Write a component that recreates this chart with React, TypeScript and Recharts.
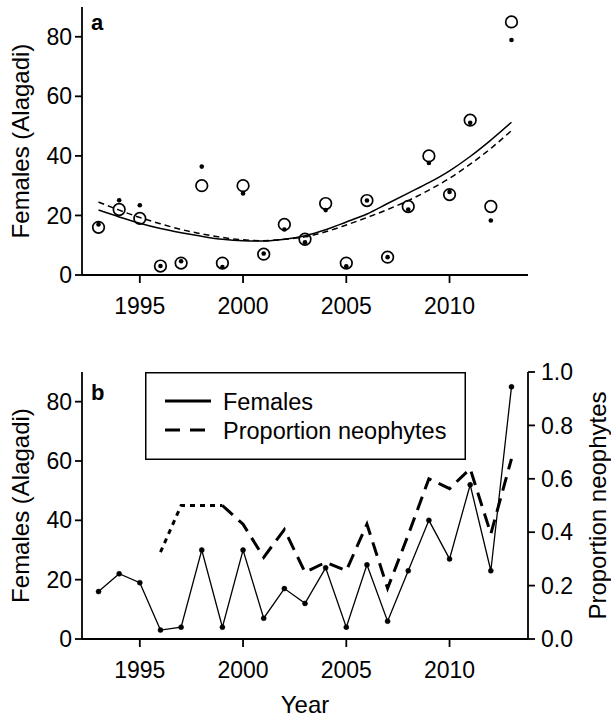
import React from "react";
import { ComposedChart, Line, Scatter, XAxis, YAxis, Legend } from "recharts";

const years = [1993, 1994, 1995, 1996, 1997, 1998, 1999, 2000, 2001, 2002, 2003, 2004, 2005, 2006, 2007, 2008, 2009, 2010, 2011, 2012, 2013];
const females = [16, 22, 19, 3, 4, 30, 4, 30, 7, 17, 12, 24, 4, 25, 6, 23, 40, 27, 52, 23, 85];
const estimated = [17, 25.1, 23.4, 3, 4.6, 36.4, 2.7, 27.4, 7.2, 15.3, 11, 21.8, 2.9, 25, 6, 22, 37.6, 27.9, 51.1, 18.3, 78.9];
// fitted curves at each year
const fitSolid = [21.8, 19.5, 17.4, 15.6, 14.2, 13.0, 12.0, 11.5, 11.4, 12.0, 13.2, 15.2, 17.8, 20.5, 24.0, 27.5, 31.0, 35.0, 39.8, 45.3, 51.3];
const fitDashed = [24.5, 21.8, 19.3, 17.2, 15.3, 13.8, 12.6, 11.8, 11.5, 12.0, 12.8, 14.5, 16.8, 19.3, 22.0, 25.0, 28.5, 32.5, 37.2, 42.5, 48.5];
const neophytes = [null, null, null, 0.325, 0.5, 0.5, 0.5, 0.43, 0.306, 0.41, 0.25, 0.287, 0.256, 0.43, 0.19, 0.39, 0.6, 0.563, 0.638, 0.394, 0.675];

const xTicks = [1995, 2000, 2005, 2010];
const leftTicks = [0, 20, 40, 60, 80];
const rightTicks = [0, 0.2, 0.4, 0.6, 0.8, 1.0];

const FONT = '"Liberation Sans", Arial, Helvetica, sans-serif';

const rowsA = years.map((year, i) => ({
  year,
  females: females[i],
  estimated: estimated[i],
  fitSolid: fitSolid[i],
  fitDashed: fitDashed[i],
}));

const rowsB = years.map((year, i) => ({
  year,
  females: females[i],
  // early part of the proportion line is drawn with a finer dash
  neoEarly: year <= 1999 ? neophytes[i] : null,
  neoLate: year >= 1999 ? neophytes[i] : null,
}));

const axisProps = {
  axisLine: { stroke: "#000", strokeWidth: 1.8 },
  tickLine: { stroke: "#000", strokeWidth: 1.8 },
  tick: { fill: "#000", fontSize: 23, fontFamily: FONT },
};

function LeftTitle(props: any) {
  const vb = props.viewBox || {};
  const cx = vb.x + 29;
  const cy = vb.y + vb.height / 2;
  return (
    <g>
      <text x={cx} y={cy} transform={`rotate(-90 ${cx} ${cy})`} textAnchor="middle" fontSize={24} fontFamily={FONT} fill="#000">
        Females (Alagadi)
      </text>
      <text x={vb.x + vb.width + 9} y={vb.y + props.letterDy} fontSize={22} fontWeight="bold" fontFamily={FONT} fill="#000">
        {props.letter}
      </text>
    </g>
  );
}

function RightTitle(props: any) {
  const vb = props.viewBox || {};
  const cx = vb.x + 78;
  const cy = vb.y + vb.height / 2;
  return (
    <text x={cx} y={cy} transform={`rotate(-90 ${cx} ${cy})`} textAnchor="middle" fontSize={24} fontFamily={FONT} fill="#000">
      Proportion neophytes
    </text>
  );
}

function YearTitle(props: any) {
  const vb = props.viewBox || {};
  return (
    <text x={vb.x + vb.width / 2} y={vb.y + 74} textAnchor="middle" fontSize={24} fontFamily={FONT} fill="#000">
      Year
    </text>
  );
}

const OpenCircle = (p: any) => <circle cx={p.cx} cy={p.cy} r={5.8} fill="none" stroke="#000" strokeWidth={1.7} />;
const SmallDot = (p: any) => <circle cx={p.cx} cy={p.cy} r={2.3} fill="#000" />;

function LegendBox() {
  return (
    <svg width={321} height={88} style={{ display: "block" }}>
      <rect x={0.75} y={0.75} width={319.5} height={86.5} fill="#fff" stroke="#000" strokeWidth={1.5} />
      <line x1={20} y1={29} x2={66} y2={29} stroke="#000" strokeWidth={2.8} />
      <line x1={20} y1={58} x2={60} y2={58} stroke="#000" strokeWidth={2.8} strokeDasharray="15 10" />
      <text x={78} y={37.5} fontSize={23.5} fontFamily={FONT} fill="#000">Females</text>
      <text x={78} y={66.5} fontSize={23.5} fontFamily={FONT} fill="#000">Proportion neophytes</text>
    </svg>
  );
}

export default function App() {
  return (
    <div style={{ position: "absolute", left: 0, top: 0, width: 611, height: 718, background: "#fff" }}>
      <ComposedChart width={611} height={330} data={rowsA} margin={{ top: 7, right: 83, bottom: 0, left: 0 }}>
        <XAxis dataKey="year" type="number" domain={[1992.2, 2013.8]} ticks={xTicks} height={55} tickSize={8} tickMargin={15} {...axisProps} />
        <YAxis type="number" domain={[0, 90]} ticks={leftTicks} width={82} tickSize={7} tickMargin={3} {...axisProps}
          label={<LeftTitle letter="a" letterDy={23} />} />
        <Line dataKey="fitSolid" type="monotone" stroke="#000" strokeWidth={1.5} dot={false} isAnimationActive={false} />
        <Line dataKey="fitDashed" type="monotone" stroke="#000" strokeWidth={1.5} strokeDasharray="6 4" dot={false} isAnimationActive={false} />
        <Scatter dataKey="females" shape={OpenCircle} isAnimationActive={false} />
        <Scatter dataKey="estimated" shape={SmallDot} isAnimationActive={false} />
      </ComposedChart>
      <ComposedChart width={611} height={388} data={rowsB} margin={{ top: 42, right: 0, bottom: 0, left: 0 }}>
        <XAxis dataKey="year" type="number" domain={[1992.2, 2013.8]} ticks={xTicks} height={79} tickSize={8} tickMargin={15} {...axisProps}
          label={<YearTitle />} />
        <YAxis yAxisId="left" type="number" domain={[0, 90]} ticks={leftTicks} width={82} tickSize={7} tickMargin={3} {...axisProps}
          label={<LeftTitle letter="b" letterDy={28} />} />
        <YAxis yAxisId="right" orientation="right" type="number" domain={[0, 1]} ticks={rightTicks} width={83} tickSize={7} tickMargin={6}
          tickFormatter={(v: number) => v.toFixed(1)} {...axisProps} label={<RightTitle />} />
        <Legend layout="vertical" align="center" verticalAlign="middle" content={() => <LegendBox />}
          wrapperStyle={{ left: 145, top: 42, width: 321, height: 88, margin: 0, padding: 0 }} />
        <Line yAxisId="left" dataKey="females" type="linear" stroke="#000" strokeWidth={1.3}
          dot={{ r: 2.5, fill: "#000", stroke: "#000", strokeWidth: 0.5 }} isAnimationActive={false} />
        <Line yAxisId="right" dataKey="neoEarly" type="linear" stroke="#000" strokeWidth={3} strokeDasharray="5 5" dot={false} isAnimationActive={false} />
        <Line yAxisId="right" dataKey="neoLate" type="linear" stroke="#000" strokeWidth={3} strokeDasharray="14 8" dot={false} isAnimationActive={false} />
      </ComposedChart>
    </div>
  );
}
